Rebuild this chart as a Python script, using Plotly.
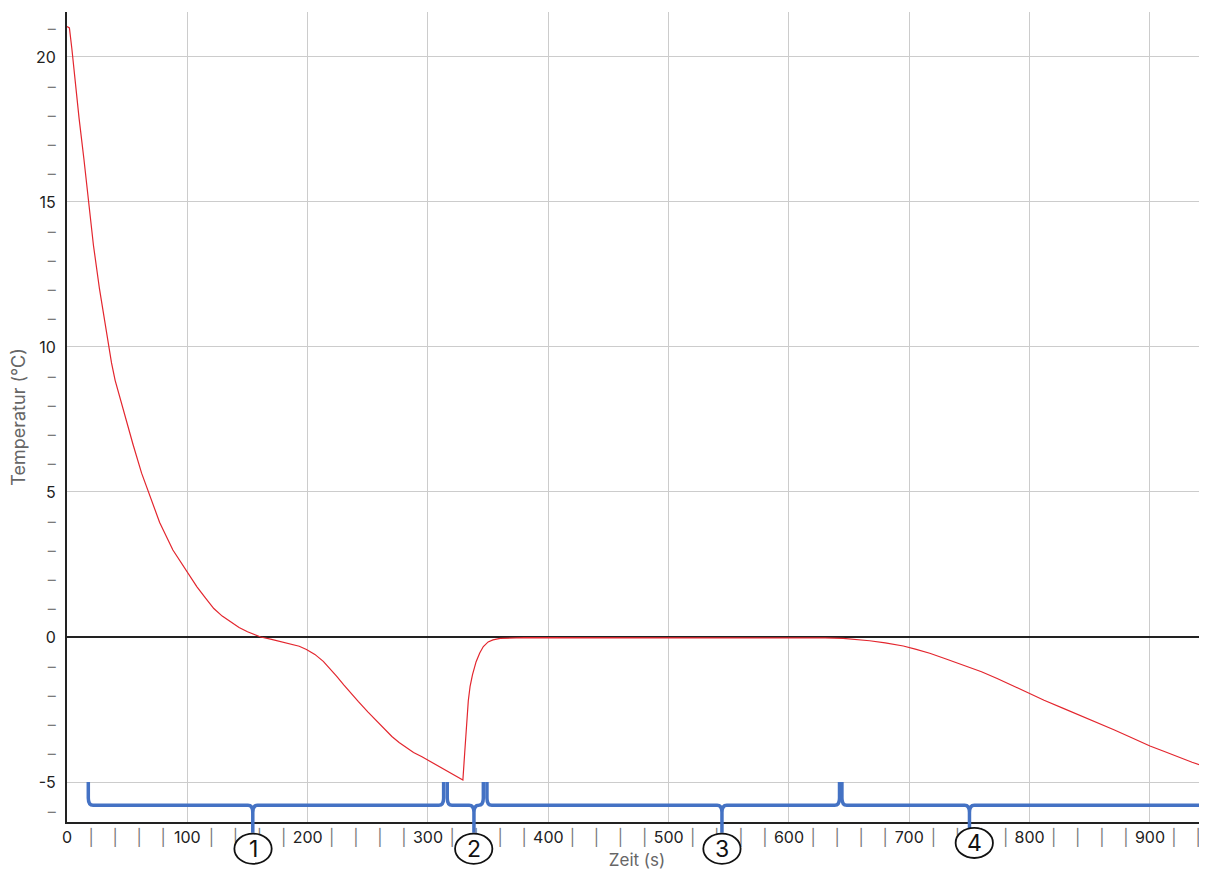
import plotly.graph_objects as go

# ---- data ----
time_s = [0, 2, 4, 7, 10, 14, 18, 22, 27, 30, 34, 37, 40, 44, 48, 52, 55, 62, 68, 77,
          88, 94, 100, 108, 115, 122, 129, 136, 143, 150, 156, 161, 170, 178, 186, 193,
          199, 206, 213, 219, 224, 230, 235, 242, 250, 260, 270, 276, 282, 288, 295,
          302, 310, 318, 325, 329, 330.5, 332, 333.5, 335, 337, 340, 343, 346, 350, 354,
          360, 380, 420, 480, 540, 600, 630, 645, 655, 667, 680, 695, 705, 717, 730,
          745, 760, 773, 786, 799, 812, 828, 842, 856, 870, 883, 900, 912, 925, 935, 946]
temp_c = [21.05, 21.0, 20.3, 19.0, 17.9, 16.5, 14.9, 13.5, 12.0, 11.2, 10.1, 9.45, 8.85,
          8.25, 7.72, 7.1, 6.62, 5.65, 4.98, 3.95, 3.0, 2.62, 2.25, 1.73, 1.35, 0.98,
          0.72, 0.52, 0.33, 0.18, 0.07, 0.0, -0.08, -0.16, -0.23, -0.32, -0.43, -0.6,
          -0.84, -1.1, -1.35, -1.65, -1.9, -2.22, -2.58, -3.0, -3.43, -3.64, -3.82,
          -3.98, -4.13, -4.29, -4.48, -4.66, -4.83, -4.93, -4.0, -2.9, -2.2, -1.7, -1.3,
          -0.85, -0.55, -0.33, -0.17, -0.1, -0.05, -0.02, -0.02, -0.01, -0.02, -0.02,
          -0.03, -0.05, -0.08, -0.13, -0.2, -0.31, -0.42, -0.56, -0.75, -0.97, -1.2,
          -1.43, -1.68, -1.94, -2.18, -2.46, -2.7, -2.96, -3.2, -3.44, -3.76, -3.95,
          -4.17, -4.32, -4.47]

# phase braces (x in s)
brace_start = [17.7, 316, 349, 644]
brace_end = [313, 346, 642, 946.5]
brace_tip = [154.4, 338.2, 544.3, 750.0]
phase_labels = ["1", "2", "3", "4"]
label_x = [154.6, 338.0, 544.3, 754.0]
label_y = [-7.3, -7.3, -7.3, -7.1]

x_range = [0, 947.4]
y_range = [-6.379, 21.55]
x_ticks = list(range(0, 941, 20))
y_ticks = list(range(-6, 22))

GREY = "#7a7a7a"
x_text = [str(v) if v % 100 == 0 else f"<span style='color:{GREY}'>|</span>" for v in x_ticks]
y_text = [str(v) if v % 5 == 0 else f"<span style='color:{GREY}'>–</span>" for v in y_ticks]

FONT = "Inter, Liberation Sans, Arial, sans-serif"

fig = go.Figure()
fig.add_trace(go.Scatter(x=time_s, y=temp_c, mode="lines",
                         line=dict(color="#e3262e", width=1.2), showlegend=False,
                         hoverinfo="x+y"))


def yp(v):
    return (v - y_range[0]) / (y_range[1] - y_range[0])


Y_TOP, Y_MID, Y_TIP = -5.0, -5.8, -6.75
R = 0.25   # vertical corner size (°C)
D = 4.0    # horizontal corner size (s)
BLUE = "#4472c4"

for x0, x1, xm in zip(brace_start, brace_end, brace_tip):
    p = (f"M {x0},{yp(Y_TOP)} L {x0},{yp(Y_MID + R)} Q {x0},{yp(Y_MID)} {x0 + D},{yp(Y_MID)} "
         f"L {xm - D},{yp(Y_MID)} Q {xm},{yp(Y_MID)} {xm},{yp(Y_MID - R)} L {xm},{yp(Y_TIP)} "
         f"M {xm},{yp(Y_MID - R)} Q {xm},{yp(Y_MID)} {xm + D},{yp(Y_MID)} "
         f"L {x1 - D},{yp(Y_MID)} Q {x1},{yp(Y_MID)} {x1},{yp(Y_MID + R)} L {x1},{yp(Y_TOP)}")
    fig.add_shape(type="path", path=p, xref="x", yref="paper",
                  line=dict(color=BLUE, width=3.5), layer="above")

CW = 15.5   # circle half-width (s)
CH = 0.52   # circle half-height (°C)
for lx, ly, lab in zip(label_x, label_y, phase_labels):
    fig.add_shape(type="circle", xref="x", yref="paper",
                  x0=lx - CW, x1=lx + CW, y0=yp(ly - CH), y1=yp(ly + CH),
                  line=dict(color="#111111", width=1.8), fillcolor="white", layer="above")
    fig.add_annotation(x=lx, y=yp(ly), xref="x", yref="paper", text=lab,
                       xanchor="center", yanchor="middle",
                       showarrow=False, font=dict(family=FONT, size=23, color="#111111"))

# the page body has an 8px margin, so the figure is 8px smaller than the window
fig.update_layout(
    width=1199, height=862,
    margin=dict(l=59, r=0, t=4, b=48),
    paper_bgcolor="white", plot_bgcolor="white",
    font=dict(family=FONT, size=16, color="#222222"),
    showlegend=False,
    xaxis=dict(range=x_range, tickmode="array", tickvals=x_ticks, ticktext=x_text,
               ticks="", showgrid=False, zeroline=False,
               showline=True, linecolor="#222222", linewidth=2,
               minor=dict(tickvals=list(range(100, 941, 100)), showgrid=True,
                          gridcolor="#cccccc", gridwidth=1, ticks=""),
               title=dict(text="Zeit (s)", font=dict(size=17, color="#666666"), standoff=10),
               tickfont=dict(size=16, color="#222222")),
    yaxis=dict(range=y_range, tickmode="array", tickvals=y_ticks, ticktext=y_text,
               ticks="", showgrid=False, ticklabelstandoff=6,
               zeroline=True, zerolinecolor="#222222", zerolinewidth=2,
               showline=True, linecolor="#222222", linewidth=2,
               minor=dict(tickvals=[-5, 5, 10, 15, 20], showgrid=True,
                          gridcolor="#cccccc", gridwidth=1, ticks=""),
               title=dict(text="Temperatur (°C)", font=dict(size=18, color="#666666"), standoff=8),
               tickfont=dict(size=16, color="#222222")),
)

fig.write_html("out.html")
